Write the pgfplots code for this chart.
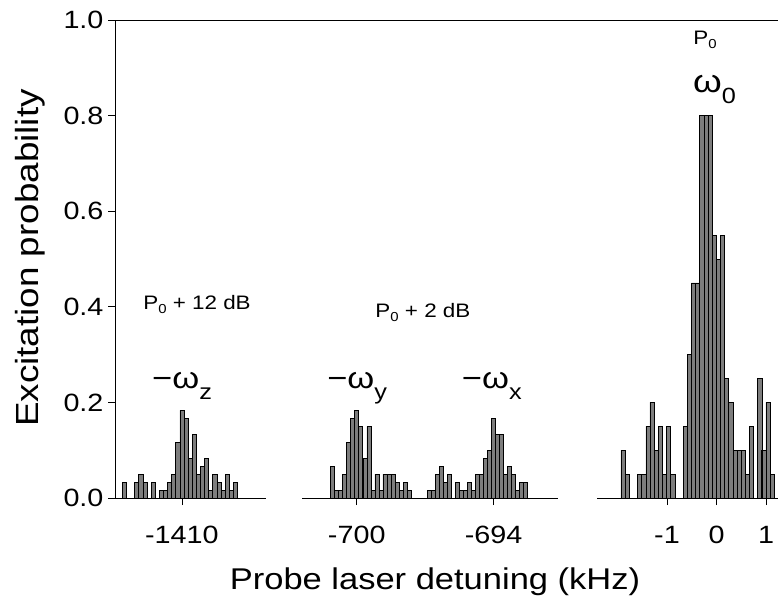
\documentclass[border=0pt]{standalone}
\usepackage{fontspec}
\setmainfont{Liberation Sans}[FakeStretch=1.15]
\usepackage{pgfplots}
\pgfplotsset{compat=1.18}
\definecolor{barfill}{RGB}{125,125,125}
\newcommand{\tickfont}{\fontsize{25}{30}\selectfont}
\newcommand{\annfont}{\fontsize{19.5}{22}\selectfont}
\newcommand{\omfont}{\fontsize{30}{34}\selectfont}
\newcommand{\Psub}[1]{P\raisebox{-4pt}{\fontsize{13}{13}\selectfont 0}#1}
\newcommand{\om}[1]{\omfont −ω\raisebox{-11pt}{\fontsize{22}{22}\selectfont #1}}
\begin{document}
\begin{tikzpicture}
\path[use as bounding box] (0pt,0pt) rectangle (778pt,606pt);
\pgfplotsset{
  seg/.style={
    anchor=south west, scale only axis, height=478pt,
    ymin=0, ymax=1,
    axis x line*=bottom,
    tick align=outside, major tick length=7pt,
    tick style={black, line width=0.8pt},
    axis line style={black, line width=0.8pt},
    ybar, bar shift=0pt,
    ticklabel style={font=\tickfont},
    xticklabel style={yshift=-18pt},
    yticklabel style={xshift=-1pt},
    every axis plot post/.append style={fill=barfill, draw=black, line width=0.6pt},
    clip=false,
  }
}
% ---------- segment 1 : -omega_z ----------
\begin{axis}[seg, at={(115pt,108pt)}, width=151pt,
  xmin=-1412.93, xmax=-1406.32, bar width=0.18,
  axis y line*=left, ytick={0,0.2,0.4,0.6,0.8,1},
  yticklabels={0.0,0.2,0.4,0.6,0.8,1.0},
  xtick={-1410}, xticklabels={-1410}]
\addplot coordinates {
(-1412.52,0.0333) (-1411.98,0.0333) (-1411.80,0.05) (-1411.62,0.0333)
(-1411.26,0.0333) (-1410.90,0.0167) (-1410.72,0.0167) (-1410.54,0.0333)
(-1410.36,0.05) (-1410.18,0.1167) (-1410.00,0.1833) (-1409.82,0.1667)
(-1409.64,0.0833) (-1409.46,0.1333) (-1409.28,0.05) (-1409.10,0.0667)
(-1408.92,0.0833) (-1408.74,0.0167) (-1408.56,0.05) (-1408.38,0.0333)
(-1408.20,0.0167) (-1408.02,0.05) (-1407.84,0.0167) (-1407.66,0.0333)
};
\coordinate (tl) at (rel axis cs:0,1);
\node[font=\annfont, anchor=center] at (axis cs:-1409.34,0.404) {\Psub{ + 12 dB}};
\node[anchor=base west, inner sep=0pt] at (axis cs:-1411.31,0.230) {\om{z}};
\end{axis}
% ---------- segment 2 : -omega_y, -omega_x ----------
\begin{axis}[seg, at={(302pt,108pt)}, width=256pt, axis y line=none,
  xmin=-702.40, xmax=-691.18, bar width=0.175,
  xtick={-700,-694}, xticklabels={-700,-694}]
\addplot coordinates {
(-701.059,0.0667) (-700.883,0.0167) (-700.706,0.0167) (-700.530,0.05)
(-700.353,0.1167) (-700.177,0.1667) (-700.000,0.1833) (-699.824,0.15)
(-699.647,0.0833) (-699.471,0.15) (-699.294,0.0167) (-699.118,0.05)
(-698.941,0.0167) (-698.765,0.05) (-698.588,0.05) (-698.412,0.05)
(-698.235,0.0333) (-698.059,0.0167) (-697.882,0.0333) (-697.706,0.0167)
};
\addplot coordinates {
(-696.803,0.0167) (-696.628,0.0167) (-696.453,0.05) (-696.278,0.0667)
(-696.102,0.0333) (-695.927,0.05) (-695.577,0.0333) (-695.402,0.0167)
(-695.226,0.0167) (-695.051,0.0333) (-694.876,0.0167) (-694.701,0.05)
(-694.526,0.05) (-694.350,0.0833) (-694.175,0.1) (-694.000,0.1667)
(-693.825,0.1333) (-693.650,0.1333) (-693.474,0.05) (-693.299,0.0667)
(-693.124,0.05) (-692.949,0.0167) (-692.774,0.0333) (-692.598,0.0333)
};
\node[font=\annfont, anchor=center] at (axis cs:-697.1,0.389) {\Psub{ + 2 dB}};
\node[anchor=base west, inner sep=0pt] at (axis cs:-701.30,0.230) {\om{y}};
\node[anchor=base west, inner sep=0pt] at (axis cs:-695.40,0.230) {\om{x}};
\end{axis}
% ---------- segment 3 : omega_0 ----------
\begin{axis}[seg, at={(597pt,108pt)}, width=181pt, axis y line=none,
  xmin=-2.414, xmax=1.242, bar width=0.0836,
  xtick={-1,0,1}, xticklabels={-1,0,1}]
\addplot coordinates {
(-1.888,0.1) (-1.804,0.05) (-1.553,0.05) (-1.469,0.05) (-1.386,0.15)
(-1.302,0.2) (-1.218,0.1) (-1.135,0.15) (-1.051,0.05) (-0.967,0.15)
(-0.884,0.05) (-0.633,0.15) (-0.549,0.3) (-0.466,0.45) (-0.382,0.45)
(-0.298,0.8) (-0.215,0.8) (-0.131,0.8) (-0.047,0.55) (0.036,0.5)
(0.120,0.55) (0.203,0.25) (0.287,0.2) (0.371,0.1) (0.454,0.1)
(0.538,0.1) (0.622,0.05) (0.705,0.15) (0.873,0.25) (0.956,0.1)
(1.040,0.2) (1.123,0.05)
};
\coordinate (tr) at (rel axis cs:1,1);
\node[font=\annfont, anchor=center] at (axis cs:-0.232,0.958) {\Psub{}};
\node[anchor=base west, inner sep=0pt] at (axis cs:-0.475,0.849) {\fontsize{32}{34}\selectfont ω\raisebox{-11pt}{\fontsize{22}{22}\selectfont 0}};
\end{axis}
\draw[black, line width=0.8pt] (tl) -- (tr);
\node[rotate=90, font=\fontsize{32}{36}\selectfont] at (30pt,348pt) {Excitation probability};
\node[font=\fontsize{30}{34}\selectfont] at (435pt,24pt) {Probe laser detuning (kHz)};
\end{tikzpicture}
\end{document}
